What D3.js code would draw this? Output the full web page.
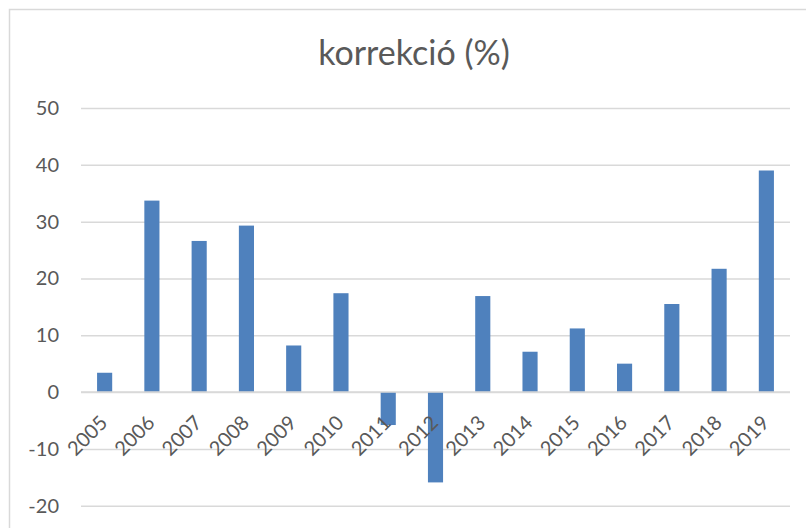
<!DOCTYPE html>
<html>
<head>
<meta charset="utf-8">
<script src="https://cdn.jsdelivr.net/npm/d3@7"></script>
<style>
  html, body { margin: 0; padding: 0; background: #fff; }
  svg { display: block; font-family: Lato, "Open Sans", sans-serif; }
</style>
</head>
<body>
<svg role="chart"></svg>
<script>
(function(){

  // chart data
  var years = ['2005', '2006', '2007', '2008', '2009', '2010', '2011', '2012',
               '2013', '2014', '2015', '2016', '2017', '2018', '2019'];
  var values = [3.4, 33.7, 26.6, 29.3, 8.2, 17.4, -5.8, -15.9,
                16.9, 7.1, 11.2, 5.0, 15.5, 21.7, 39.0];
  var yTicks = [-20, -10, 0, 10, 20, 30, 40, 50];
  var title = 'korrekció (%)';

  var width = 806,
      height = 528,
      margin = {
        top: 108,
        left: 81,
        right: 16,
        bottom: 22
      };

  var textColor = '#595959',
      gridColor = '#d9d9d9',
      barColor = '#4f81bd';

  var svg = d3.select('[role="chart"]')
    .attr('width', width)
    .attr('height', height);

  // outer frame of the chart, right and bottom edges run off the picture
  svg.append('rect')
    .attr('x', 9.5)
    .attr('y', 9.5)
    .attr('width', 830)
    .attr('height', 560)
    .attr('fill', '#fff')
    .attr('stroke', gridColor)
    .attr('stroke-width', 1.5);

  svg.append('text')
    .attr('x', 414)
    .attr('y', 65)
    .attr('text-anchor', 'middle')
    .attr('fill', textColor)
    .style('font-size', '34px')
    .text(title);

  var x = d3.scaleBand()
    .domain(years)
    .range([margin.left, width - margin.right])
    .paddingInner(0.68)
    .paddingOuter(0.34);

  var y = d3.scaleLinear()
    .domain([-20, 50])
    .range([505.7, margin.top]);

  // horizontal grid lines + y labels (plain hyphen for negatives, like Excel)
  var yAxis = d3.axisLeft(y)
    .tickValues(yTicks)
    .tickSize(-(width - margin.right - margin.left))
    .tickPadding(22)
    .tickFormat(function(d) { return String(d); });

  var gy = svg.append('g')
    .attr('transform', 'translate(' + margin.left + ',0)')
    .call(yAxis);
  gy.select('.domain').remove();
  gy.selectAll('.tick line')
    .attr('stroke', gridColor)
    .attr('stroke-width', 1.5);
  gy.selectAll('.tick text')
    .attr('fill', textColor)
    .style('font-size', '20px')
    .style('font-family', 'Lato, sans-serif');

  // bars
  svg.append('g')
    .selectAll('rect')
    .data(values)
    .enter()
    .append('rect')
    .attr('x', function(d, i) { return x(years[i]); })
    .attr('width', x.bandwidth())
    .attr('y', function(d) { return y(Math.max(0, d)); })
    .attr('height', function(d) { return Math.abs(y(d) - y(0)); })
    .attr('fill', barColor);

  // zero line drawn over the bars
  svg.append('line')
    .attr('x1', margin.left)
    .attr('x2', width - margin.right)
    .attr('y1', y(0))
    .attr('y2', y(0))
    .attr('stroke', gridColor)
    .attr('stroke-width', 1.5);

  // rotated category labels hanging under the zero line
  svg.append('g')
    .selectAll('text')
    .data(years)
    .enter()
    .append('text')
    .attr('transform', function(d) {
      var cx = x(d) + x.bandwidth() / 2 + 4;
      return 'translate(' + cx + ',' + (y(0) + 32) + ') rotate(-45)';
    })
    .attr('text-anchor', 'end')
    .attr('fill', textColor)
    .style('font-size', '20px')
    .text(function(d) { return d; });

})();
</script>
</body>
</html>
